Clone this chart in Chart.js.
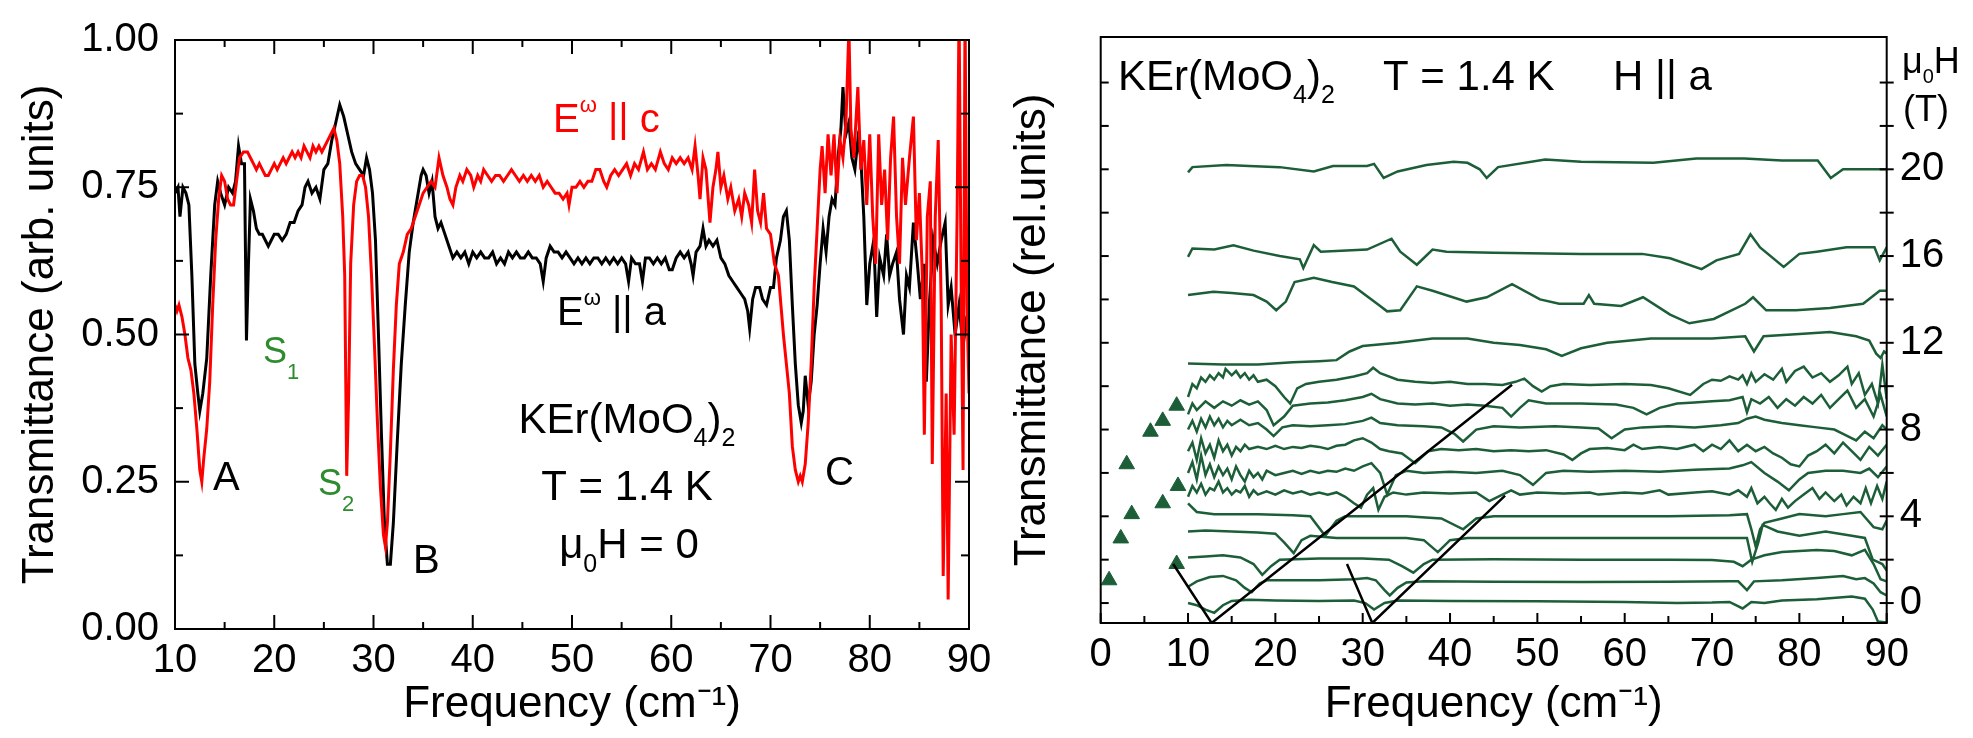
<!DOCTYPE html>
<html lang="en">
  <head>
    <meta charset="UTF-8" />
    <title>KEr(MoO4)2 transmittance</title>
    <style>
      body { margin: 0; background: #fff; }
      .panel { position: absolute; top: 0; }
    </style>
  </head>
  <body>
    <canvas id="specChart" class="panel" style="left:0" width="1000" height="738"></canvas>
    <canvas id="fieldChart" class="panel" style="left:1000px" width="973" height="738"></canvas>

    <script src="https://cdn.jsdelivr.net/npm/chart.js"></script>
    <script>
      // left panel: zero-field spectra, [frequency cm-1, transmittance]
      const specEa = [
        [10,0.74],[10.3,0.75],[10.5,0.70],[10.8,0.75],[11.1,0.74],[11.4,0.72],[11.7,0.60],[12,0.45],[12.3,0.40],[12.5,0.37],
        [12.8,0.40],[13.2,0.46],[13.6,0.60],[14,0.72],[14.3,0.76],[14.6,0.74],[15,0.72],[15.4,0.75],[15.8,0.74],[16.1,0.76],
        [16.4,0.82],[16.7,0.79],[17,0.79],[17.2,0.49],[17.4,0.62],[17.6,0.73],[17.9,0.71],[18.2,0.68],[18.5,0.67],[18.8,0.67],
        [19.1,0.66],[19.4,0.65],[19.7,0.66],[20,0.67],[20.4,0.67],[20.8,0.66],[21.2,0.67],[21.6,0.69],[22,0.69],[22.4,0.71],
        [22.8,0.72],[23.1,0.75],[23.4,0.76],[23.8,0.74],[24.2,0.75],[24.6,0.73],[25,0.78],[25.4,0.79],[25.8,0.83],[26.2,0.86],
        [26.6,0.89],[27,0.87],[27.4,0.84],[27.8,0.81],[28.2,0.79],[28.6,0.78],[29,0.77],[29.3,0.80],[29.6,0.78],[29.9,0.74],
        [30.2,0.66],[30.5,0.50],[30.8,0.33],[31.1,0.18],[31.4,0.11],[31.7,0.11],[32,0.18],[32.4,0.32],[32.8,0.45],[33.2,0.55],
        [33.6,0.64],[34,0.69],[34.4,0.73],[34.8,0.77],[35,0.78],[35.3,0.77],[35.6,0.74],[35.9,0.76],[36.2,0.70],[36.5,0.68],
        [36.8,0.69],[37.2,0.67],[37.6,0.65],[38,0.63],[38.4,0.64],[38.8,0.63],[39.2,0.64],[39.6,0.62],[40,0.64],[40.4,0.63],
        [40.8,0.64],[41.2,0.63],[41.6,0.63],[42,0.64],[42.4,0.62],[42.8,0.63],[43.2,0.62],[43.6,0.64],[44,0.63],[44.4,0.64],
        [44.8,0.63],[45.2,0.63],[45.6,0.64],[46,0.63],[46.4,0.63],[46.8,0.62],[47.1,0.59],[47.4,0.63],[47.8,0.65],[48.2,0.64],
        [48.6,0.64],[49,0.63],[49.4,0.64],[49.8,0.63],[50.2,0.62],[50.6,0.63],[51,0.62],[51.4,0.63],[51.8,0.62],[52.2,0.63],
        [52.6,0.63],[53,0.62],[53.4,0.63],[53.8,0.62],[54.2,0.63],[54.6,0.62],[55,0.63],[55.4,0.62],[55.7,0.59],[56,0.63],
        [56.4,0.62],[56.8,0.62],[57.1,0.59],[57.4,0.63],[57.8,0.63],[58.2,0.62],[58.6,0.63],[59,0.62],[59.4,0.63],[59.8,0.61],
        [60.1,0.61],[60.5,0.63],[60.9,0.64],[61.3,0.63],[61.7,0.64],[62,0.62],[62.2,0.60],[62.5,0.64],[62.9,0.65],[63.2,0.68],
        [63.5,0.65],[63.8,0.66],[64.2,0.65],[64.6,0.66],[65,0.63],[65.4,0.62],[65.8,0.60],[66.2,0.59],[66.6,0.58],[67,0.57],
        [67.4,0.56],[67.7,0.54],[67.9,0.51],[68.2,0.56],[68.5,0.58],[68.9,0.58],[69.2,0.56],[69.6,0.55],[70,0.58],[70.3,0.58],
        [70.6,0.63],[71,0.66],[71.3,0.70],[71.6,0.71],[71.9,0.66],[72.2,0.55],[72.5,0.45],[72.8,0.38],[73.1,0.35],[73.3,0.37],
        [73.5,0.43],[73.8,0.38],[74.1,0.42],[74.4,0.50],[74.7,0.55],[75,0.62],[75.3,0.68],[75.6,0.64],[75.9,0.70],[76.2,0.73],
        [76.5,0.72],[76.8,0.80],[77.1,0.85],[77.3,0.92],[77.6,0.84],[77.9,0.86],[78.2,0.80],[78.5,0.78],[78.8,0.83],[79.1,0.80],
        [79.4,0.70],[79.7,0.55],[80,0.62],[80.4,0.66],[80.7,0.53],[81,0.63],[81.4,0.60],[81.7,0.67],[82,0.60],[82.3,0.62],
        [82.7,0.64],[83,0.56],[83.4,0.50],[83.7,0.60],[84,0.58],[84.4,0.69],[84.8,0.62],[85.1,0.56],[85.5,0.62],[85.7,0.42],
        [86,0.55],[86.4,0.66],[86.8,0.62],[87.2,0.66],[87.6,0.69],[87.9,0.55],[88.2,0.58],[88.6,0.50],[89,0.55],[89.4,0.48],
        [89.7,0.52],[90,0.50]
      ];
      const specEc = [
        [10,0.55],[10.2,0.54],[10.4,0.55],[10.7,0.53],[11,0.50],[11.3,0.46],[11.6,0.44],[11.9,0.40],[12.2,0.34],[12.5,0.27],
        [12.7,0.25],[12.9,0.29],[13.2,0.34],[13.5,0.42],[13.8,0.55],[14.1,0.66],[14.4,0.73],[14.7,0.77],[15,0.76],[15.3,0.73],
        [15.6,0.72],[15.9,0.72],[16.2,0.76],[16.5,0.80],[16.9,0.81],[17.3,0.81],[17.6,0.80],[17.9,0.79],[18.2,0.78],[18.5,0.79],
        [18.8,0.78],[19.1,0.77],[19.4,0.77],[19.7,0.78],[20,0.79],[20.3,0.78],[20.6,0.79],[20.9,0.80],[21.2,0.79],[21.5,0.80],
        [21.8,0.81],[22.1,0.80],[22.4,0.81],[22.7,0.80],[23,0.82],[23.3,0.81],[23.6,0.80],[23.9,0.82],[24.2,0.81],[24.5,0.82],
        [24.8,0.81],[25.1,0.82],[25.4,0.83],[25.7,0.84],[26,0.85],[26.3,0.83],[26.6,0.79],[26.9,0.70],[27.1,0.60],[27.3,0.26],
        [27.5,0.40],[27.7,0.62],[28,0.72],[28.3,0.76],[28.6,0.77],[28.9,0.77],[29.2,0.75],[29.5,0.70],[29.8,0.60],[30.1,0.48],
        [30.4,0.35],[30.7,0.24],[31,0.16],[31.2,0.14],[31.4,0.18],[31.7,0.30],[32,0.44],[32.3,0.55],[32.6,0.62],[33,0.64],
        [33.4,0.67],[33.8,0.68],[34.2,0.70],[34.6,0.72],[35,0.74],[35.4,0.75],[35.8,0.76],[36.2,0.75],[36.6,0.80],[37,0.77],
        [37.4,0.75],[37.7,0.73],[38,0.72],[38.3,0.75],[38.7,0.77],[39,0.76],[39.4,0.78],[39.8,0.77],[40.1,0.75],[40.5,0.77],
        [40.8,0.76],[41.1,0.78],[41.5,0.77],[41.9,0.76],[42.3,0.77],[42.7,0.77],[43.1,0.76],[43.5,0.77],[43.9,0.78],[44.3,0.77],
        [44.7,0.76],[45.1,0.77],[45.5,0.76],[45.9,0.77],[46.3,0.76],[46.7,0.77],[47.1,0.75],[47.5,0.76],[47.9,0.75],[48.3,0.74],
        [48.7,0.74],[49.1,0.73],[49.5,0.74],[49.7,0.72],[50,0.75],[50.4,0.75],[50.8,0.76],[51.2,0.75],[51.6,0.76],[52,0.76],
        [52.4,0.78],[52.8,0.78],[53.2,0.76],[53.5,0.75],[53.9,0.77],[54.3,0.78],[54.7,0.77],[55.1,0.78],[55.5,0.79],[55.9,0.77],
        [56.3,0.79],[56.7,0.78],[57.2,0.81],[57.6,0.78],[58,0.79],[58.4,0.78],[58.9,0.81],[59.3,0.79],[59.7,0.78],[60.1,0.80],
        [60.5,0.79],[60.9,0.80],[61.3,0.79],[61.7,0.80],[62.1,0.78],[62.4,0.82],[62.7,0.77],[62.9,0.73],[63.2,0.80],[63.5,0.78],
        [63.9,0.69],[64.2,0.75],[64.5,0.78],[64.7,0.81],[65,0.75],[65.3,0.77],[65.7,0.73],[66,0.75],[66.4,0.71],[66.8,0.73],
        [67.1,0.70],[67.4,0.74],[67.8,0.72],[68.1,0.69],[68.4,0.78],[68.7,0.71],[69,0.69],[69.3,0.74],[69.6,0.68],[70,0.67],
        [70.4,0.62],[70.8,0.60],[71.1,0.54],[71.3,0.50],[71.6,0.45],[71.9,0.40],[72.2,0.31],[72.5,0.27],[72.8,0.25],[73,0.26],
        [73.2,0.25],[73.5,0.28],[73.8,0.35],[74.1,0.45],[74.4,0.58],[74.7,0.68],[75,0.78],[75.2,0.82],[75.5,0.74],[75.8,0.84],
        [76.1,0.77],[76.4,0.84],[76.7,0.74],[77,0.83],[77.3,0.80],[77.6,0.86],[77.9,1.02],[78.1,0.85],[78.4,0.80],[78.8,0.92],
        [79.1,0.78],[79.4,0.83],[79.7,0.72],[80,0.84],[80.3,0.70],[80.6,0.62],[80.9,0.84],[81.2,0.72],[81.5,0.78],[81.8,0.66],
        [82.1,0.80],[82.4,0.87],[82.7,0.70],[83,0.62],[83.3,0.80],[83.6,0.72],[84,0.80],[84.4,0.87],[84.7,0.66],[85,0.74],
        [85.3,0.60],[85.5,0.33],[85.8,0.70],[86.1,0.76],[86.3,0.28],[86.6,0.70],[86.9,0.83],[87.2,0.55],[87.4,0.09],[87.7,0.40],
        [87.9,0.05],[88.2,0.50],[88.5,0.33],[88.8,0.70],[89,1.05],[89.2,0.60],[89.4,0.27],[89.6,1.05],[89.8,0.55],[90,0.40]
      ];

      // right panel: spectra in field, offset by field value (T), [frequency, offset transmittance]
      const fieldValues = [0, 1, 2, 3, 4, 5, 6, 7, 8, 9, 10, 12, 14, 16, 20];
      const h0 = [[10,0],[11,-0.1],[12,-0.3],[13,-0.45],[14,-0.1],[15,0.1],[17,0.15],[20,0.12],[25,0.1],[29,0.12],[30.3,0],[31.3,-0.3],[32.5,0],[34,0.12],[40,0.1],[50,0.08],[60,0.05],[66,0],[70,0.02],[72,0.05],[73.5,-0.25],[74.5,0.05],[76,0],[78,0.12],[82,0.18],[86,0.3],[87.5,0.2],[88.4,-0.3],[89,-0.85],[90,-0.9]];
      const h1 = [[10,0.75],[11,1],[12.5,1.2],[14,1.25],[15.5,1.05],[16.5,0.7],[17.3,0.5],[18.2,0.9],[19,1.05],[25,1.05],[29,1.1],[30.5,1.15],[31.5,1.05],[32.5,0.6],[33.1,0.35],[34,0.7],[35,0.95],[37,1],[45,0.98],[55,0.97],[65,0.98],[72,1],[73,1],[74,0.6],[74.8,1],[78,1.05],[82,1.15],[85,1.25],[86.5,1.1],[87.5,1.15],[88.5,0.9],[89.3,0.5],[90,0.35]];
      const h2 = [[10,2.1],[12,2.15],[14,2.2],[16,2.1],[17.5,1.8],[18.5,1.3],[19.5,1.7],[20.5,2],[25,2.05],[30,2.05],[33,2],[34.5,1.7],[35.8,1.4],[37,1.8],[38,2],[45,2.02],[55,2],[65,2],[70,1.98],[72.5,1.9],[73.5,1.7],[74.5,2],[76,2.2],[78,2.35],[82,2.45],[84,2.4],[86,2.2],[87.5,2.45],[88.5,1.8],[89.3,1.1],[90,1]];
      const h3 = [[10,3.3],[12,3.35],[15,3.3],[18,3.25],[20,3.2],[21,2.8],[22.1,2.3],[23,2.9],[24,3.1],[27,3],[30,3],[35,3],[37,2.9],[38.6,2.35],[40,2.9],[42,3],[50,3],[60,3],[70,3],[74,3],[74.6,1.9],[75.3,2.8],[75.8,3.6],[77.5,3.3],[80,3.1],[83,3.3],[86,3.1],[87.5,3],[88.4,2],[89.5,1.8],[90,1.5]];
      const h4 = [[10,4.6],[11,4.2],[13,4.1],[18,4.1],[22,4.05],[24,4],[25.7,3.1],[27,3.8],[28,4],[35,4],[39,3.9],[41.5,3.4],[43,3.9],[45,4],[55,4],[65,4],[72,4.05],[74,4.1],[74.5,3.4],[75,2.6],[75.5,3.4],[76,3.7],[78,3.9],[80,4.1],[83,4],[85,4.1],[87,4.2],[88.5,3.5],[89.5,3.4],[90,3.8]];
      const h5 = [[10,4.9],[10.5,5.4],[11,5.1],[11.5,5.5],[12,5],[12.5,5.3],[13,5.2],[13.5,5.6],[14,5.1],[14.5,5.3],[15,5],[15.5,5.2],[16,5.1],[16.5,5.4],[17,4.9],[17.5,5.2],[18,5],[19,5.15],[20,5],[21,5.2],[22,5.05],[23,5.15],[24,5],[25,5.1],[26,5],[27,5.1],[28,4.9],[29,4.6],[29.8,4.4],[30.5,5],[31.2,5.3],[31.8,4.3],[32.5,4.9],[33.5,5.1],[35,5],[37,5.1],[40,5.05],[43,5.1],[44.5,4.7],[46,5],[47,5.2],[48,5],[50,5.1],[53,5.05],[56,5.1],[57,5],[60,5.1],[62,5.05],[64,5.2],[65,5],[68,5.1],[70,5.15],[72,5],[73,5.2],[74,4.9],[74.5,5.3],[75.2,4.6],[76,4.9],[76.6,4.6],[77.3,4.3],[78,4.8],[78.7,4.4],[79.5,4.7],[80.5,5],[81.5,5.3],[82.3,4.8],[83,5.1],[84,4.7],[84.8,5],[85.4,4.5],[86.2,4.9],[87,4.6],[87.6,5.3],[88.2,4.6],[88.9,5.4],[89.5,4.8],[90,5.6]];
      const h6 = [[10,6],[10.5,6.5],[11,5.7],[11.5,6.8],[12,5.9],[12.5,6.4],[13,5.8],[13.5,6.3],[14,5.9],[14.5,6.2],[15,5.7],[15.5,6.3],[16,5.9],[16.5,5.6],[17,6.1],[17.5,5.8],[18,6],[18.5,5.7],[19,6.1],[20,5.9],[21,6],[22,6.1],[23,5.95],[24,6.1],[25,6],[26,6.1],[27,6.05],[28,6.2],[29,6.1],[30,6.3],[31,6.45],[32,6],[32.8,5],[33.8,5.9],[35,6.1],[37,6],[40,6.05],[43,6],[46,6.1],[48,5.9],[49.5,5.45],[51,6],[53,6.1],[56,6.05],[60,6.1],[64,6.05],[68,6.15],[72,6.2],[73.5,6.35],[74.5,6.5],[76,6],[77.5,5.6],[78.8,5.2],[80,5.7],[81,6],[83,6.1],[85,6.1],[87,6],[88,6.2],[89,5.8],[90,6.3]];
      const h7 = [[10,7],[10.5,7.4],[11,6.6],[11.5,7.6],[12,6.9],[12.5,7.3],[13,6.7],[13.5,7.5],[14,7],[14.5,7.3],[15,6.8],[15.5,7.2],[16,7],[16.5,7.3],[17,7.1],[18,7.2],[19,7.1],[20,7.25],[21,7.1],[22,7.2],[23,7.15],[24,7.25],[25,7.2],[26,7.1],[27,7.25],[28,7.3],[29,7.5],[30,7.6],[31,7.4],[32,7.1],[33,7],[34.5,6.9],[36,6.45],[37.5,7],[39,7.1],[41,7.05],[43,7.1],[45,7],[47,7.05],[49,7],[51,7.05],[53,6.85],[54,6.6],[55,6.9],[56,7.1],[58,7.15],[60,7.05],[61,7.3],[62,7.1],[64,7.2],[66,7.1],[68,7.3],[69,7],[70,7.3],[71,7.1],[72,7.5],[73,7],[74,7.3],[75,7],[76,7.2],[77,6.9],[78,6.7],[79,6.4],[80,6.3],[81,6.8],[82,7],[83,7.3],[84,6.9],[85,7.4],[86,7],[87,6.6],[88,7.2],[89,6.8],[90,7.3]];
      const h8 = [[10,8],[10.5,8.4],[11,7.9],[11.5,8.5],[12,8.1],[12.5,8.6],[13,8.2],[13.5,8.5],[14,8.1],[14.5,8.4],[15,8.2],[16,8.45],[17,8.2],[18,8.3],[19,8],[19.8,7.7],[20.8,8.1],[22,8.2],[24,8.15],[26,8.2],[28,8.25],[30,8.4],[31,8.55],[32,8.3],[34,8.2],[37,8.15],[39,8.1],[40.5,7.8],[41.5,7.45],[43,8],[45,8.15],[48,8.1],[52,8.15],[55,8.1],[57,8.05],[58.5,7.6],[60,8],[62,8.1],[65,8.15],[68,8.1],[71,8.2],[73,8.3],[74,8.5],[75,8.6],[76,8.45],[78,8.3],[80,8.2],[82,8.1],[84,8],[85,7.8],[86.5,7.5],[87.5,7.9],[88.5,7.6],[89.5,8.2],[90,8]];
      const h9 = [[10,8.7],[10.5,9.2],[11,8.9],[12,9.3],[13,9],[14,9.3],[15,9.1],[16,9.35],[17,9.15],[18,9.3],[19,8.9],[19.8,8.2],[21,8.6],[22,9.1],[24,9.2],[26,9.25],[28,9.35],[30,9.5],[31,9.65],[32,9.4],[34,9.2],[36,9.15],[38,9.2],[40,9.1],[42,9.15],[44,9.1],[46,9],[47,8.6],[48,9],[49,9.35],[51,9.2],[55,9.2],[59,9.15],[61,9],[62.5,8.7],[64,9],[66,9.2],[68,9.25],[70,9.3],[72,9.35],[73.5,9.5],[74,8.8],[74.5,9.4],[75.5,9.2],[76.5,9.5],[77.5,9],[78.5,9.4],[79.5,9.1],[80.5,9.5],[81.5,9.2],[82.5,9.6],[83.5,9],[84.5,9.4],[85.5,9.8],[86.5,9],[87.5,9.4],[88.5,8.6],[89.3,9.6],[90,8.6]];
      const h10 = [[10,9.5],[10.5,10.1],[11,9.9],[11.5,10.4],[12,10.2],[12.5,10.5],[13,10.3],[13.5,10.6],[14,10.4],[14.3,10.8],[15,10.5],[15.5,10.7],[16,10.4],[16.5,10.6],[17,10.3],[17.5,10.5],[18,10.2],[19,10.3],[20,10],[21,9.5],[21.7,9.2],[22.5,9.9],[23.5,10.1],[25,10.2],[27,10.3],[29,10.45],[30.5,10.6],[31.2,10.85],[32,10.6],[34,10.3],[36,10.2],[38,10.15],[40,10.2],[42,10.1],[44,10.1],[46,10.05],[47.5,10.2],[48.5,10.35],[49.5,10],[50.5,9.75],[51.5,10],[53,10.1],[56,10.05],[60,10.1],[63,10.05],[65,9.9],[67.5,9.6],[69,10.1],[70,10.3],[71,10.25],[72,10.45],[73,10.3],[73.5,10.5],[74,10.1],[74.5,10.6],[75,10.2],[76,10.55],[77,10.3],[78,10.8],[78.5,10.2],[79.5,10.7],[80.5,10.9],[81.5,10.4],[82.5,10.6],[83.5,10.2],[84.5,10.5],[85.5,10.9],[86,10.1],[86.8,10.6],[87.5,9.6],[88.3,10.1],[89,9.2],[89.5,11],[90,9.4]];
      const h12 = [[10,11.05],[14,11],[18,11],[22,11.1],[25,11.15],[27,11.2],[28.5,11.6],[30,11.85],[34,12],[38,12.2],[42,12.2],[45,12],[48,11.9],[51,11.7],[52.8,11.4],[55,11.75],[58,12],[63,12.2],[70,12.2],[73.8,12.3],[74.8,11.6],[75.9,12.3],[80,12.4],[83.5,12.5],[86.5,12.3],[88,12.1],[88.8,11.5],[89.3,11.3],[89.7,11.6],[90,11.5]];
      const h14 = [[10,14.2],[12.9,14.35],[15,14.3],[17.5,14.2],[19,13.9],[20.1,13.5],[21.2,13.9],[22.2,14.8],[24.4,15],[26.5,14.8],[29,14.6],[32,13.7],[32.8,13.45],[34.3,13.5],[36.2,14.6],[38,14.4],[41.9,13.9],[44.2,14.1],[47.1,14.7],[50.3,14],[52.5,13.8],[55.3,13.8],[55.9,14.2],[56.5,13.8],[59.6,13.7],[62.1,14.1],[65.2,13.3],[67.4,12.9],[70.2,13.1],[73.8,13.8],[74.7,14.1],[76.2,13.5],[79.6,13.5],[83.5,13.6],[87.3,13.8],[89.2,14.4],[90,14.4]];
      const h16 = [[10,15.96],[10.5,16.35],[13,16.3],[15.2,16.5],[17.5,16.25],[20.5,16],[22.8,15.85],[23.2,15.45],[24.4,16.5],[25.2,16.2],[30.5,16.3],[33.3,16.8],[34.3,16.2],[36.2,15.6],[38,16.3],[39.6,16.2],[45,16.15],[55,16.1],[62,16.1],[65.2,15.9],[68.8,15.4],[70.5,15.8],[73.1,16.1],[74.4,17],[75.5,16.4],[78.2,15.5],[80,16.1],[82,16.2],[85.4,16.4],[88.6,16.4],[89.2,15.8],[90,16.4]];
      const h20 = [[10,19.86],[10.5,20.1],[14.4,20.2],[17,20.15],[20.5,20.1],[24.4,19.9],[26.6,20.15],[30.5,20.15],[31.3,20.25],[32.4,19.6],[34,19.9],[37.3,20.2],[40.4,20.35],[42,20.3],[43.4,20],[44.2,19.6],[45.5,20.1],[50.9,20.45],[55,20.35],[63.3,20.3],[68.2,20.5],[73.7,20.5],[78,20.4],[82.1,20.4],[83.6,19.6],[85,20],[90,20]];
      const fieldTraces = [h0, h1, h2, h3, h4, h5, h6, h7, h8, h9, h10, h12, h14, h16, h20];

      // triangles (mode positions) and the two guide lines
      const modePoints = [[0.96,1.05],[2.3,2.98],[3.55,4.1],[2.98,6.4],[5.7,7.9],[7.1,8.4],[8.7,9.1],[7.1,4.6],[8.85,5.4],[8.7,1.8]];
      const guideA = [[8.3,1.8],[12.7,-0.92],[47.1,10.07]];
      const guideB = [[28.2,1.8],[31.1,-0.92],[46.3,4.95]];
      const fieldLabels = [0, 4, 8, 12, 16, 20];

      const FONT = "'Liberation Sans', Arial, sans-serif";
      const GREEN = "#1c5e37";
      Chart.defaults.font.family = FONT;
      Chart.defaults.color = "#000";

      const toPoints = (pairs) => pairs.map((p) => ({ x: p[0], y: p[1] }));

      // text with sub/superscript pieces: [text, kind]
      function richText(ctx, parts, x, y, size, color, opts = {}) {
        const subSize = opts.subSize || size * 0.6;
        const subShift = opts.subShift || size * 0.3;
        const supShift = opts.supShift || size * 0.5;
        const widths = parts.map(([t, k]) => {
          ctx.font = (k ? subSize : size) + "px " + FONT;
          return ctx.measureText(t).width;
        });
        const total = widths.reduce((a, b) => a + b, 0);
        let cx = opts.center ? x - total / 2 : x;
        ctx.fillStyle = color;
        ctx.textAlign = "left";
        ctx.textBaseline = "alphabetic";
        parts.forEach(([t, k], i) => {
          ctx.font = (k ? subSize : size) + "px " + FONT;
          const dy = k === "sub" ? subShift : k === "sup" ? -supShift : 0;
          ctx.fillText(t, cx, y + dy);
          cx += widths[i];
        });
      }

      function line(ctx, x1, y1, x2, y2) {
        ctx.beginPath();
        ctx.moveTo(x1, y1);
        ctx.lineTo(x2, y2);
        ctx.stroke();
      }

      const specFrame = {
        id: "specFrame",
        afterDraw(chart) {
          const { ctx, chartArea: a, scales } = chart;
          ctx.save();
          ctx.strokeStyle = "#000";
          ctx.lineWidth = 2;
          ctx.strokeRect(a.left, a.top, a.right - a.left, a.bottom - a.top);
          for (let v = 10; v <= 90; v += 5) {
            const px = scales.x.getPixelForValue(v);
            const len = v % 10 === 0 ? 14 : 7;
            line(ctx, px, a.bottom, px, a.bottom - len);
            line(ctx, px, a.top, px, a.top + len);
          }
          for (let k = 0; k <= 8; k++) {
            const py = scales.y.getPixelForValue(k * 0.125);
            const len = k % 2 === 0 ? 14 : 8;
            line(ctx, a.left, py, a.left + len, py);
            line(ctx, a.right, py, a.right - len, py);
          }
          ctx.restore();

          ctx.save();
          richText(ctx, [["E"], ["ω", "sup"], [" || c"]], 553, 132, 40, "#f00", { subSize: 22, supShift: 20 });
          richText(ctx, [["E"], ["ω", "sup"], [" || a"]], 557, 325, 40, "#000", { subSize: 22, supShift: 20 });
          richText(ctx, [["S"], ["1", "sub"]], 263, 363, 36, "#2e8b2e", { subSize: 22, subShift: 16 });
          richText(ctx, [["S"], ["2", "sub"]], 318, 495, 36, "#2e8b2e", { subSize: 22, subShift: 16 });
          richText(ctx, [["A"]], 213, 490, 40, "#000");
          richText(ctx, [["B"]], 413, 573, 40, "#000");
          richText(ctx, [["C"]], 825, 485, 40, "#000");
          richText(ctx, [["KEr(MoO"], ["4", "sub"], [")"], ["2", "sub"]], 627, 433, 42, "#000", { subSize: 25, subShift: 13, center: true });
          richText(ctx, [["T = 1.4 K"]], 627, 500, 42, "#000", { center: true });
          richText(ctx, [["μ"], ["0", "sub"], ["H = 0"]], 629, 558, 42, "#000", { subSize: 25, subShift: 14, center: true });
          ctx.restore();
        },
      };

      const fieldFrame = {
        id: "fieldFrame",
        afterDraw(chart) {
          const { ctx, chartArea: a, scales } = chart;
          ctx.save();
          ctx.strokeStyle = "#000";
          ctx.lineWidth = 2;
          ctx.strokeRect(a.left, a.top, a.right - a.left, a.bottom - a.top);
          for (let v = 0; v <= 90; v += 5) {
            const px = scales.x.getPixelForValue(v);
            line(ctx, px, a.bottom, px, a.bottom - (v % 10 === 0 ? 10 : 7));
          }
          for (let v = 0; v <= 24; v += 2) {
            const py = scales.yR.getPixelForValue(v);
            line(ctx, a.left, py, a.left + 8, py);
            line(ctx, a.right - 7, py, a.right + 7, py);
          }
          ctx.restore();

          ctx.save();
          richText(ctx, [["KEr(MoO"], ["4", "sub"], [")"], ["2", "sub"]], 118, 90, 42, "#000", { subSize: 25, subShift: 13 });
          richText(ctx, [["T = 1.4 K"]], 383, 90, 42, "#000");
          richText(ctx, [["H || a"]], 613, 90, 42, "#000");
          richText(ctx, [["μ"], ["0", "sub"], ["H"]], 902, 73, 36, "#000", { subSize: 20, subShift: 10 });
          richText(ctx, [["(T)"]], 903, 121, 36, "#000");
          ctx.restore();
        },
      };

      const tickFont = { size: 40, family: FONT };
      const titleFont = { size: 44, family: FONT };

      new Chart(document.getElementById("specChart").getContext("2d"), {
        type: "line",
        data: {
          datasets: [
            { label: "E || c", data: toPoints(specEc), borderColor: "#ff0000", borderWidth: 3 },
            { label: "E || a", data: toPoints(specEa), borderColor: "#000000", borderWidth: 3 },
          ],
        },
        options: {
          responsive: false,
          animation: false,
          elements: { point: { radius: 0 }, line: { tension: 0 } },
          layout: { padding: { top: 34, right: 31, left: 0, bottom: 0 } },
          plugins: { legend: { display: false }, tooltip: { enabled: false } },
          scales: {
            x: {
              type: "linear",
              min: 10,
              max: 90,
              ticks: { stepSize: 10, font: tickFont, color: "#000", padding: 8, maxRotation: 0 },
              grid: { display: false, drawTicks: false },
              border: { display: false },
              title: { display: true, text: "Frequency (cm⁻¹)", font: titleFont, color: "#000", padding: { top: 0, bottom: 7 } },
              afterFit: (s) => { s.height = 109; },
            },
            y: {
              min: 0,
              max: 1,
              ticks: { stepSize: 0.25, font: tickFont, color: "#000", padding: 16, callback: (v) => v.toFixed(2) },
              grid: { display: false, drawTicks: false },
              border: { display: false },
              title: { display: true, text: "Transmittance (arb. units)", font: titleFont, color: "#000", padding: { top: 14, bottom: 0 } },
              afterFit: (s) => { s.width = 175; },
            },
          },
        },
        plugins: [specFrame],
      });

      const fieldDatasets = [
        { label: "guide A", data: toPoints(guideA), borderColor: "#000", borderWidth: 2.5, yAxisID: "yR" },
        { label: "guide B", data: toPoints(guideB), borderColor: "#000", borderWidth: 2.5, yAxisID: "yR" },
        {
          label: "modes",
          data: toPoints(modePoints),
          showLine: false,
          pointStyle: "triangle",
          pointRadius: 9,
          backgroundColor: GREEN,
          borderColor: GREEN,
          yAxisID: "yR",
        },
      ];
      fieldTraces.forEach((tr, i) => {
        fieldDatasets.push({
          label: fieldValues[i] + " T",
          data: toPoints(tr),
          borderColor: GREEN,
          borderWidth: 2.5,
          yAxisID: "yR",
        });
      });

      new Chart(document.getElementById("fieldChart").getContext("2d"), {
        type: "line",
        data: { datasets: fieldDatasets },
        options: {
          responsive: false,
          animation: false,
          elements: { point: { radius: 0 }, line: { tension: 0 } },
          layout: { padding: { top: 34, right: 0, left: 0, bottom: 0 } },
          plugins: { legend: { display: false }, tooltip: { enabled: false } },
          scales: {
            x: {
              type: "linear",
              min: 0,
              max: 90,
              ticks: { stepSize: 10, font: tickFont, color: "#000", padding: 8, maxRotation: 0 },
              grid: { display: false, drawTicks: false },
              border: { display: false },
              title: { display: true, text: "Frequency (cm⁻¹)", font: titleFont, color: "#000", padding: { top: 0, bottom: 7 } },
              afterFit: (s) => { s.height = 115; },
            },
            yL: {
              position: "left",
              min: -0.92,
              max: 26.1,
              ticks: { display: false },
              grid: { display: false, drawTicks: false },
              border: { display: false },
              title: { display: true, text: "Transmittance (rel.units)", font: titleFont, color: "#000", padding: { top: 6, bottom: 0 } },
              afterFit: (s) => { s.width = 100.7; },
            },
            yR: {
              position: "right",
              min: -0.92,
              max: 26.1,
              ticks: { font: tickFont, color: "#000", padding: 13 },
              afterBuildTicks: (s) => { s.ticks = fieldLabels.map((v) => ({ value: v })); },
              grid: { display: false, drawTicks: false },
              border: { display: false },
              afterFit: (s) => { s.width = 86.3; },
            },
          },
        },
        plugins: [fieldFrame],
      });
    </script>
  </body>
</html>
